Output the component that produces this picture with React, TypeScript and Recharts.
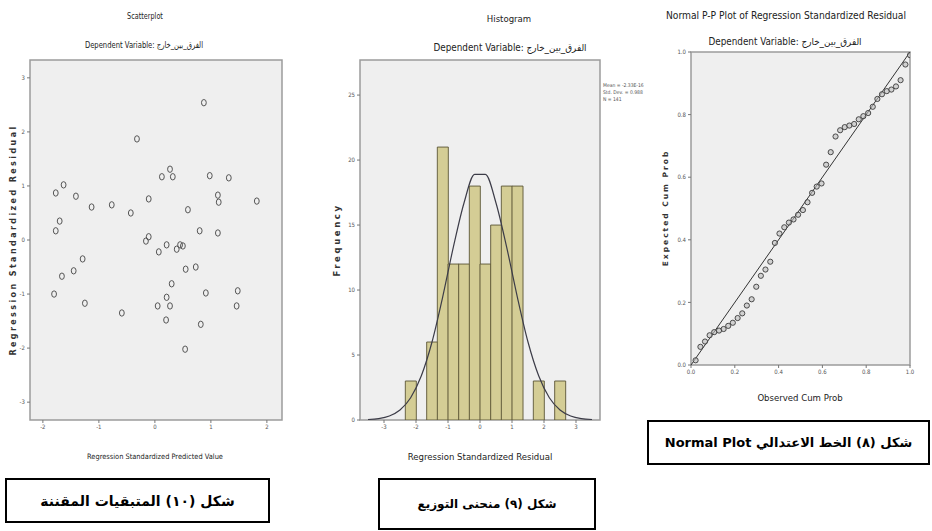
import React from 'react';
import {
  ScatterChart, Scatter, ComposedChart, Bar, Line, XAxis, YAxis,
  CartesianGrid, ReferenceArea, ReferenceLine,
} from 'recharts';

// ---------- Scatterplot (residual vs predicted) ----------
const scatterPredicted = [0.875, -0.32, 0.125, 0.27, 0.32, 0.98, 1.32, -1.77, -1.63, -1.41, -1.13, -0.77, -0.43, -0.11, 1.125, 1.14, 1.82, 0.59, -1.7, -1.77, 0.8, 1.125, -0.16, -0.11, 0.21, 0.07, 0.45, 0.39, 0.5, -1.29, -1.45, -1.66, 0.55, 0.73, 0.3, -1.8, 0.91, 1.48, 0.21, -1.25, -0.59, 0.05, 0.27, 0.2, 1.46, 0.82, 0.54];
const scatterResidual = [2.54, 1.87, 1.17, 1.31, 1.17, 1.19, 1.15, 0.87, 1.02, 0.81, 0.61, 0.65, 0.5, 0.76, 0.83, 0.7, 0.72, 0.56, 0.35, 0.17, 0.17, 0.13, -0.02, 0.06, -0.09, -0.22, -0.09, -0.17, -0.11, -0.35, -0.57, -0.67, -0.54, -0.5, -0.81, -1.0, -0.98, -0.94, -1.06, -1.17, -1.35, -1.22, -1.22, -1.48, -1.22, -1.56, -2.02];
const scatterXTicks = [-2, -1, 0, 1, 2];
const scatterYTicks = [-3, -2, -1, 0, 1, 2, 3];

// ---------- Histogram ----------
const binCenters = [-3.5, -3.167, -2.833, -2.5, -2.167, -1.833, -1.5, -1.167, -0.833, -0.5, -0.167, 0.167, 0.5, 0.833, 1.167, 1.5, 1.833, 2.167, 2.5, 2.833, 3.167, 3.5];
const binFrequency = [null, null, null, null, 3, null, 6, 21, 12, 12, 18, 12, 15, 18, 18, null, 3, null, 3, null, null, null];
const normalCurve = [0.04, 0.11, 0.31, 0.77, 1.71, 3.4, 6.0, 9.46, 13.3, 16.7, 18.9, 18.9, 16.7, 13.3, 9.46, 6.0, 3.4, 1.71, 0.77, 0.31, 0.11, 0.04];
const histXTicks = [-3, -2, -1, 0, 1, 2, 3];
const histYTicks = [0, 5, 10, 15, 20, 25];
const histStats = ['Mean = -2.33E-16', 'Std. Dev. = 0.988', 'N = 141'];

// ---------- Normal P-P plot ----------
const ppObserved = [0.021, 0.043, 0.064, 0.085, 0.106, 0.128, 0.149, 0.17, 0.191, 0.213, 0.234, 0.255, 0.277, 0.298, 0.319, 0.34, 0.362, 0.383, 0.404, 0.426, 0.447, 0.468, 0.489, 0.511, 0.532, 0.553, 0.574, 0.596, 0.617, 0.638, 0.66, 0.681, 0.702, 0.723, 0.745, 0.766, 0.787, 0.809, 0.83, 0.851, 0.872, 0.894, 0.915, 0.936, 0.957, 0.979, 1.0];
const ppExpected = [0.015, 0.058, 0.075, 0.095, 0.105, 0.11, 0.115, 0.125, 0.135, 0.15, 0.165, 0.19, 0.21, 0.25, 0.285, 0.305, 0.33, 0.39, 0.42, 0.44, 0.455, 0.465, 0.48, 0.495, 0.52, 0.55, 0.57, 0.58, 0.64, 0.68, 0.73, 0.75, 0.76, 0.765, 0.77, 0.785, 0.795, 0.805, 0.825, 0.85, 0.865, 0.875, 0.88, 0.89, 0.91, 0.96, 0.99];
const ppTicks = [0, 0.2, 0.4, 0.6, 0.8, 1.0];

const depVar = 'Dependent Variable: الفرق_بين_خارج';

const scatterData = scatterPredicted.map((x, i) => ({ x, y: scatterResidual[i] }));
const histData = binCenters.map((x, i) => ({ x, freq: binFrequency[i], curve: normalCurve[i] }));
const ppData = ppObserved.map((x, i) => ({ x, y: ppExpected[i] }));

const NARROW = "'Liberation Sans Narrow','DejaVu Sans Condensed','Liberation Sans',sans-serif";
const tickStyle = { fontSize: 6, fill: '#555', fontFamily: NARROW };
const frameStroke = '#9c9c9c';
const plotBg = '#efefef';

const T = ({ x, y, children, size = 9, bold = false, vertical = false, spacing = 0, color = '#222', font = NARROW, sx = 1 }: any) => (
  <div
    style={{
      position: 'absolute', left: x, top: y, whiteSpace: 'nowrap',
      transform: `translate(-50%, -50%)${vertical ? ' rotate(-90deg)' : ''} scaleX(${sx})`,
      fontSize: size, fontWeight: bold ? 700 : 400, letterSpacing: spacing,
      color, fontFamily: font, lineHeight: 1,
    }}
  >
    {children}
  </div>
);

const Box = ({ left, top, width, height, children, size }: any) => (
  <div
    dir="rtl"
    style={{
      position: 'absolute', left, top, width, height, boxSizing: 'border-box',
      border: '2px solid #000', display: 'flex', alignItems: 'center', justifyContent: 'center',
      fontFamily: "'DejaVu Sans',sans-serif", fontWeight: 700, fontSize: size, color: '#000',
    }}
  >
    {children}
  </div>
);

const Ring = (p: any) => (
  <ellipse cx={p.cx} cy={p.cy} rx={2.4} ry={3.2} fill="none" stroke="#555" strokeWidth={1} />
);
const Dot = (p: any) => (
  <circle cx={p.cx} cy={p.cy} r={2.6} fill="#bdbdbd" fillOpacity={0.6} stroke="#3a3a3a" strokeWidth={0.9} />
);

export default function App() {
  return (
    <div style={{ position: 'relative', width: 932, height: 531, background: '#fff', overflow: 'hidden' }}>
      <style>{'body{margin:0}'}</style>

      {/* Scatterplot */}
      <div style={{ position: 'absolute', left: 0, top: 0 }}>
        <ScatterChart width={300} height={480} margin={{ top: 60, right: 18, bottom: 40, left: 10 }}>
          <CartesianGrid fill={plotBg} horizontal={false} vertical={false} />
          <XAxis type="number" dataKey="x" domain={[-2.23, 2.27]} ticks={scatterXTicks} allowDataOverflow
            height={20} axisLine={false} tickSize={3} tickLine={{ stroke: '#777' }} tick={tickStyle} />
          <YAxis type="number" dataKey="y" domain={[-3.33, 3.33]} ticks={scatterYTicks} allowDataOverflow
            width={20} axisLine={false} tickSize={3} tickLine={{ stroke: '#777' }} tick={tickStyle} />
          <Scatter data={scatterData} shape={Ring} isAnimationActive={false} />
          <ReferenceArea x1={-2.23} x2={2.27} y1={-3.33} y2={3.33} fill="none" stroke={frameStroke} strokeWidth={1.5} ifOverflow="visible" />
        </ScatterChart>
      </div>
      <T x={145} y={16} size={9} sx={0.8}>Scatterplot</T>
      <T x={144} y={45} size={9} sx={0.84}>{depVar}</T>
      <T x={14} y={240} size={8} bold vertical spacing={2.4} color="#333" font="'DejaVu Sans',sans-serif">Regression Standardized Residual</T>
      <T x={155} y={457} size={7.4}>Regression Standardized Predicted Value</T>

      {/* Histogram */}
      <div style={{ position: 'absolute', left: 310, top: 0 }}>
        <ComposedChart width={320} height={480} data={histData} barCategoryGap={0} barGap={0}
          margin={{ top: 60, right: 30, bottom: 40, left: 30 }}>
          <CartesianGrid fill={plotBg} horizontal={false} vertical={false} />
          <XAxis type="number" dataKey="x" domain={[-3.75, 3.75]} ticks={histXTicks} allowDataOverflow
            height={20} axisLine={false} tickSize={3} tickLine={{ stroke: '#777' }} tick={tickStyle} />
          <YAxis type="number" domain={[0, 27.7]} ticks={histYTicks} allowDataOverflow
            width={20} axisLine={false} tickSize={3} tickLine={{ stroke: '#777' }} tick={tickStyle} />
          <Bar dataKey="freq" fill="#d4cd95" stroke="#5a5535" strokeWidth={0.9} isAnimationActive={false} />
          <Line dataKey="curve" type="monotone" stroke="#3c3c48" strokeWidth={1.2} dot={false} isAnimationActive={false} />
          <ReferenceArea x1={-3.75} x2={3.75} y1={0} y2={27.7} fill="none" stroke={frameStroke} strokeWidth={1.5} ifOverflow="visible" />
        </ComposedChart>
      </div>
      <T x={509} y={19} size={9.5}>Histogram</T>
      <T x={510} y={48} size={9.8}>{depVar}</T>
      <T x={337} y={240} size={8.5} bold vertical spacing={2.6} color="#333" font="'DejaVu Sans',sans-serif">Frequency</T>
      <T x={480} y={457} size={9.5}>Regression Standardized Residual</T>
      <div style={{ position: 'absolute', left: 603, top: 82, fontSize: 5, lineHeight: '7px', color: '#555', fontFamily: NARROW, whiteSpace: 'nowrap' }}>
        {histStats.map((s) => <div key={s}>{s}</div>)}
      </div>

      {/* Normal P-P plot */}
      <div style={{ position: 'absolute', left: 630, top: 0 }}>
        <ScatterChart width={302} height={420} margin={{ top: 52, right: 22, bottom: 35, left: 41 }}>
          <CartesianGrid fill={plotBg} horizontal={false} vertical={false} />
          <XAxis type="number" dataKey="x" domain={[0, 1]} ticks={ppTicks} allowDataOverflow
            height={20} axisLine={false} tickSize={3} tickLine={{ stroke: '#777' }} tick={tickStyle}
            tickFormatter={(v: number) => v.toFixed(1)} />
          <YAxis type="number" dataKey="y" domain={[0, 1]} ticks={ppTicks} allowDataOverflow
            width={20} axisLine={false} tickSize={3} tickLine={{ stroke: '#777' }} tick={tickStyle}
            tickFormatter={(v: number) => v.toFixed(1)} />
          <ReferenceLine segment={[{ x: 0, y: 0 }, { x: 1, y: 1 }]} stroke="#333" strokeWidth={1} ifOverflow="visible" />
          <Scatter data={ppData} shape={Dot} isAnimationActive={false} />
          <ReferenceArea x1={0} x2={1} y1={0} y2={1} fill="none" stroke={frameStroke} strokeWidth={1.5} ifOverflow="visible" />
        </ScatterChart>
      </div>
      <T x={786} y={16} size={10.2}>Normal P-P Plot of Regression Standardized Residual</T>
      <T x={785} y={42} size={9.8}>{depVar}</T>
      <T x={666} y={208} size={7.5} bold vertical spacing={2} color="#333" font="'DejaVu Sans',sans-serif">Expected Cum Prob</T>
      <T x={800} y={398} size={9.5}>Observed Cum Prob</T>

      {/* Captions */}
      <Box left={5} top={478} width={265} height={45} size={14}>شكل (١٠) المتبقيات المقننة</Box>
      <Box left={378} top={478} width={218} height={52} size={12}>شكل (٩) منحنى التوزيع</Box>
      <Box left={647} top={420} width={283} height={45} size={13}>شكل (٨) الخط الاعتدالي Normal Plot</Box>
    </div>
  );
}
